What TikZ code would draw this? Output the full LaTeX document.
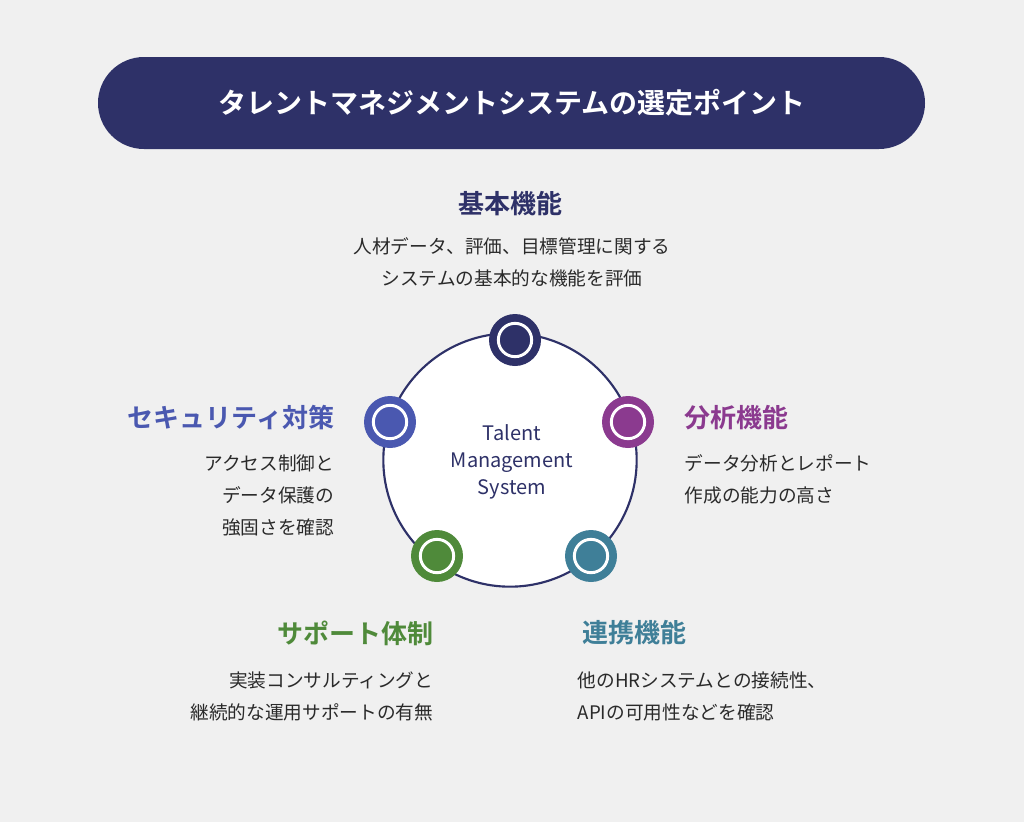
\documentclass[tikz,border=0pt]{standalone}
\usepackage{fontspec}
\setmainfont{Noto Sans CJK JP}
\newfontfamily\jpbold{Noto Sans CJK JP Bold}
\definecolor{bgcol}{HTML}{F0F0F0}
\definecolor{navycol}{HTML}{2E3168}
\definecolor{purplecol}{HTML}{8B3A8F}
\definecolor{tealcol}{HTML}{3F7F98}
\definecolor{greencol}{HTML}{4F8A3A}
\definecolor{bluecol}{HTML}{4A58B0}
\definecolor{textcol}{HTML}{2A2A2A}
\tikzset{
  headtext/.style={font=\jpbold\fontsize{19.5}{22}\selectfont},
  desctext/.style={font=\fontsize{14}{24}\selectfont, text=textcol, align=#1},
  markdot/.style={circle, fill=#1, minimum size=39pt, inner sep=0pt},
  markring/.style={circle, draw=white, line width=2.2pt, minimum size=25pt, inner sep=0pt}
}
\begin{document}
\begin{tikzpicture}[x=0.75pt,y=-0.75pt]
\fill[bgcol] (0,0) rectangle (1024,822);
\useasboundingbox (0,0) rectangle (1024,822);
% title
\fill[navycol, rounded corners=34.5pt] (98,57) rectangle (925,149);
\node[text=white, font=\jpbold\fontsize{21}{24}\selectfont] (title) at (512,103) {タレントマネジメントシステムの選定ポイント};
% main circle
\node[circle, draw=navycol, line width=1.6pt, fill=white, minimum size=190pt] (core) at (510,460) {};
\node[text=navycol, align=center, font=\fontsize{15}{20}\selectfont] (coretext) at (512,462) {Talent\\Management\\System};
% markers
\foreach \name/\pos/\col in {mbase/{(515,340)}/navycol, mana/{(628,422)}/purplecol, mlink/{(591,556)}/tealcol, msup/{(437,556)}/greencol, msec/{(390,422)}/bluecol}{
  \node[markdot=\col] (\name) at \pos {};
  \node[markring] at \pos {};
}
% labels
\node[headtext, text=navycol] (hbase) at (510,204) {基本機能};
\node[desctext=center] (dbase) at (512,262) {人材データ、評価、目標管理に関する\\システムの基本的な機能を評価};
\node[headtext, text=purplecol, anchor=west] (hana) at (680,418) {分析機能};
\node[desctext=left, anchor=north west] (dana) at (680,450) {データ分析とレポート\\作成の能力の高さ};
\node[headtext, text=bluecol, anchor=east] (hsec) at (339,418) {セキュリティ対策};
\node[desctext=right, anchor=north east] (dsec) at (339,450) {アクセス制御と\\データ保護の\\強固さを確認};
\node[headtext, text=greencol, anchor=east] (hsup) at (438,633) {サポート体制};
\node[desctext=right, anchor=north east] (dsup) at (438,667) {実装コンサルティングと\\継続的な運用サポートの有無};
\node[headtext, text=tealcol, anchor=west] (hlink) at (578,633) {連携機能};
\node[desctext=left, anchor=north west] (dlink) at (573,667) {他のHRシステムとの接続性、\\APIの可用性などを確認};
\end{tikzpicture}
\end{document}
